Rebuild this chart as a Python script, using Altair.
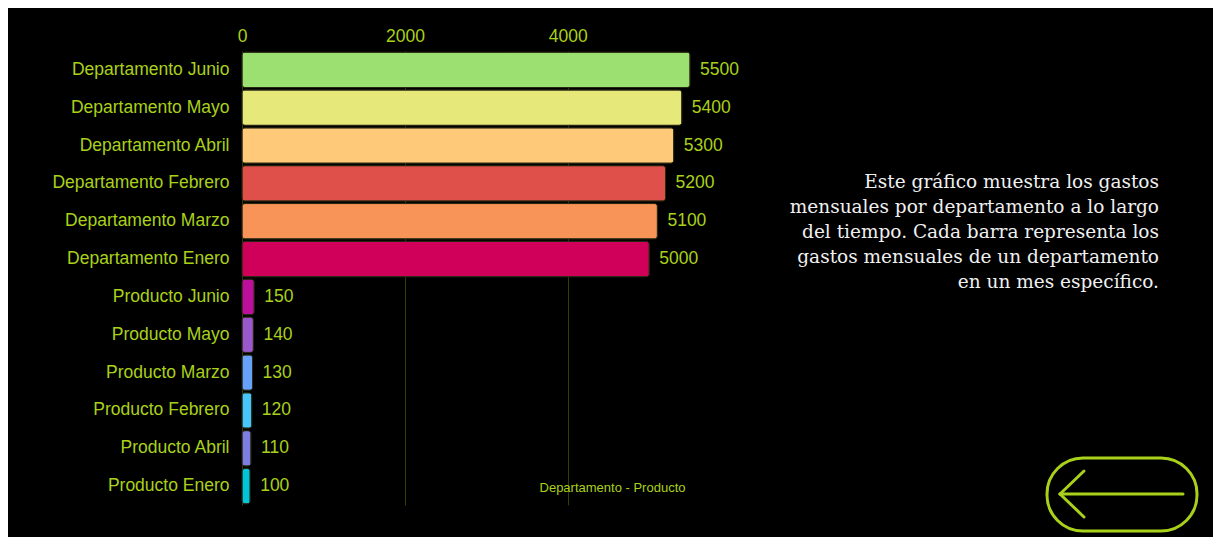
import altair as alt
import pandas as pd

categories = [
    "Departamento Junio", "Departamento Mayo", "Departamento Abril",
    "Departamento Febrero", "Departamento Marzo", "Departamento Enero",
    "Producto Junio", "Producto Mayo", "Producto Marzo",
    "Producto Febrero", "Producto Abril", "Producto Enero",
]
values = [5500, 5400, 5300, 5200, 5100, 5000, 150, 140, 130, 120, 110, 100]
colors = [
    "#9be070", "#e6e87a", "#ffc97a", "#e0504a", "#f89458", "#d0005a",
    "#bb0f9c", "#9a58cc", "#66a2fa", "#46c6fa", "#7e7ee2", "#00c4d8",
]
x_ticks = [0, 2000, 4000]
note_lines = [
    "Este gráfico muestra los gastos",
    "mensuales por departamento a lo largo",
    "del tiempo. Cada barra representa los",
    "gastos mensuales de un departamento",
    "en un mes específico.",
]

LABEL = "#aad11a"

df = pd.DataFrame({"categoria": categories, "valor": values})

W, H = 448, 454

x = alt.X(
    "valor:Q",
    scale=alt.Scale(domain=[0, 5500], nice=False),
    axis=alt.Axis(
        orient="top", values=x_ticks, format="d", title="Departamento - Producto",
        titleX=370, titleY=436, titleAlign="center", titleBaseline="middle",
        titleFontSize=13, titleFontWeight="normal", titleColor=LABEL,
        titleFont="Liberation Sans",
        labelColor=LABEL, labelFontSize=17.5, labelFont="Liberation Sans",
        labelPadding=6, labelFlush=False, ticks=False, domain=False,
        grid=True, gridColor="#343c00", gridWidth=1,
    ),
)
y = alt.Y(
    "categoria:N", sort=categories,
    scale=alt.Scale(paddingInner=0.065, paddingOuter=0.03),
    axis=alt.Axis(
        title=None, labelColor=LABEL, labelFontSize=17.5,
        labelFont="Liberation Sans", labelPadding=13, ticks=False,
        domain=False, grid=False,
    ),
)

bars = alt.Chart(df).mark_bar(cornerRadius=3, stroke="#2a2a14", strokeWidth=1).encode(
    x=x, y=y,
    color=alt.Color("categoria:N", scale=alt.Scale(domain=categories, range=colors), legend=None),
)

labels = alt.Chart(df).mark_text(
    align="left", baseline="middle", dx=10, fontSize=17.5,
    font="Liberation Sans", color=LABEL,
).encode(x="valor:Q", y=alt.Y("categoria:N", sort=categories), text="valor:Q")

note_layers = []
for i, line in enumerate(note_lines):
    note_layers.append(
        alt.Chart(pd.DataFrame({"t": [line]})).mark_text(
            align="right", baseline="middle", font="DejaVu Serif", fontSize=18.5,
            color="#f0f0f0",
        ).encode(x=alt.value(917), y=alt.value(131 + i * 25), text="t:N")
    )

pill = alt.Chart(pd.DataFrame({"a": [0]})).mark_rect(
    fill=None, filled=False, stroke=LABEL, strokeWidth=3, cornerRadius=36,
).encode(x=alt.value(805), x2=alt.value(955), y=alt.value(407), y2=alt.value(480))

arrow_main = alt.Chart(pd.DataFrame({"a": [0]})).mark_rule(
    color=LABEL, strokeWidth=3, strokeCap="round",
).encode(x=alt.value(818), x2=alt.value(941), y=alt.value(443), y2=alt.value(443))
arrow_up = alt.Chart(pd.DataFrame({"a": [0]})).mark_rule(
    color=LABEL, strokeWidth=3, strokeCap="round",
).encode(x=alt.value(818), x2=alt.value(842), y=alt.value(443), y2=alt.value(420))
arrow_dn = alt.Chart(pd.DataFrame({"a": [0]})).mark_rule(
    color=LABEL, strokeWidth=3, strokeCap="round",
).encode(x=alt.value(818), x2=alt.value(842), y=alt.value(443), y2=alt.value(466))

chart = alt.layer(bars, labels, *note_layers, pill, arrow_main, arrow_up, arrow_dn).properties(
    width=W, height=H,
    autosize=alt.AutoSizeParams(type="none"),
    padding={"left": 234, "top": 43, "right": 523, "bottom": 32},
    background="black",
).configure_view(stroke=None)

chart.save("out.html", embed_options={"renderer": "svg", "actions": False})
